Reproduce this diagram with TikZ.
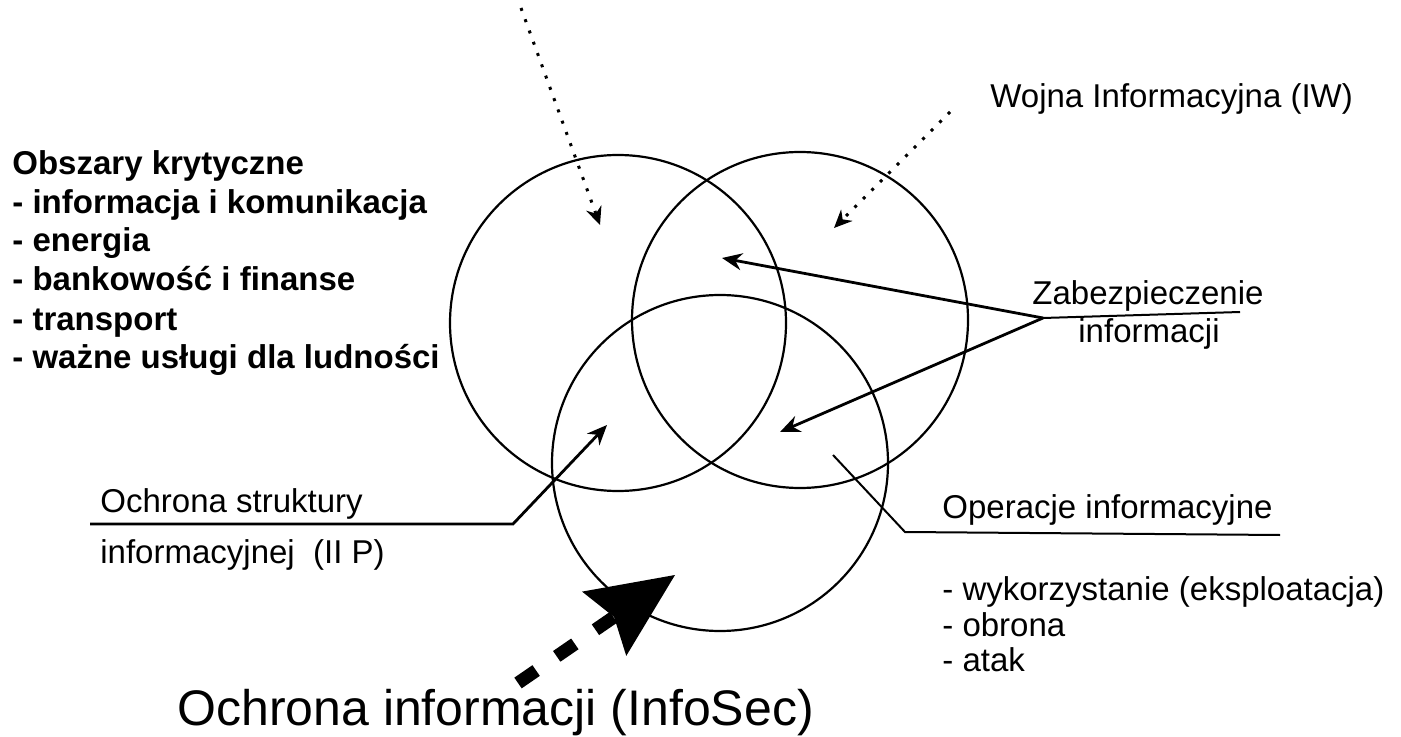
\documentclass[tikz,border=0pt]{standalone}
\usepackage{fontspec}
\setmainfont{Liberation Sans}
\usetikzlibrary{arrows.meta}
\begin{document}
\begin{tikzpicture}[x=0.5pt,y=-0.5pt,
  ring/.style={circle, draw, line width=1.1pt, minimum size=168pt, inner sep=0pt},
  lbl/.style={anchor=base west, inner sep=0pt, font=\fontsize{16.5}{19}\selectfont},
  boldlbl/.style={anchor=base west, inner sep=0pt, font=\fontsize{16.5}{19}\selectfont\bfseries},
  biglbl/.style={anchor=base west, inner sep=0pt, font=\fontsize{25}{30}\selectfont},
  pointer/.style={line width=1.4pt, -{Stealth[length=10pt,width=8.5pt]}},
  leader/.style={line width=1pt},
  dotarrow/.style={line width=1.5pt, dash pattern=on 1.5pt off 4.5pt, -{Stealth[length=9pt,width=8pt]}},
  bigarrow/.style={line width=6.5pt, dash pattern=on 11pt off 12.5pt,
    -{Stealth[length=43pt,width=39pt,inset=6pt,line width=0pt]}}]

\useasboundingbox (0,0) rectangle (1401,737);

% the three overlapping areas
\node[ring] (cI) at (618,323) {};
\node[ring] (cW) at (800,320) {};
\node[ring] (cO) at (720,463) {};

% critical areas list
\node[boldlbl] (k0) at (12,175) {Obszary krytyczne};
\node[boldlbl] (k1) at (12,214) {- informacja i komunikacja};
\node[boldlbl] (k2) at (12,252) {- energia};
\node[boldlbl] (k3) at (12,291) {- bankowość i finanse};
\node[boldlbl] (k4) at (12,330) {- transport};
\node[boldlbl] (k5) at (12,368) {- ważne usługi dla ludności};

% information warfare
\node[lbl] (iw) at (990,108) {Wojna Informacyjna (IW)};
\coordinate (iwS) at (950,112);
\coordinate (iwT) at (834,228);
\draw[dotarrow] (iwS) -- (iwT);

% arrow entering from above
\coordinate (topS) at (521,8);
\coordinate (topT) at (600,225);
\draw[dotarrow] (topS) -- (topT);

% information assurance
\node[lbl] (za1) at (1032,305) {Zabezpieczenie};
\node[lbl] (za2) at (1078,343) {informacji};
\coordinate (zJ) at (1043,318);
\coordinate (zE) at (1240,312);
\coordinate (zT1) at (722,258);
\coordinate (zT2) at (780,432);
\draw[leader] (zJ) -- (zE);
\draw[pointer] (zJ) -- (zT1);
\draw[pointer] (zJ) -- (zT2);

% infrastructure protection
\node[lbl] (iip1) at (100,512) {Ochrona struktury};
\node[lbl] (iip2) at (100,563) {informacyjnej\ \ (II P)};
\coordinate (pS) at (90,524);
\coordinate (pK) at (513,524);
\coordinate (pT) at (607,425);
\draw[pointer] (pS) -- (pK) -- (pT);

% information operations
\node[lbl] (io) at (942,518) {Operacje informacyjne};
\node[lbl] (io1) at (942,600) {- wykorzystanie (eksploatacja)};
\node[lbl] (io2) at (942,636) {- obrona};
\node[lbl] (io3) at (942,671) {- atak};
\coordinate (oS) at (833,455);
\coordinate (oK) at (905,532);
\coordinate (oE) at (1280,535);
\draw[leader] (oS) -- (oK) -- (oE);

% information security
\node[biglbl] (sec) at (177,725) {Ochrona informacji (InfoSec)};
\coordinate (bS) at (518,683);
\coordinate (bT) at (675,575);
\draw[bigarrow] (bS) -- (bT);

\end{tikzpicture}
\end{document}
